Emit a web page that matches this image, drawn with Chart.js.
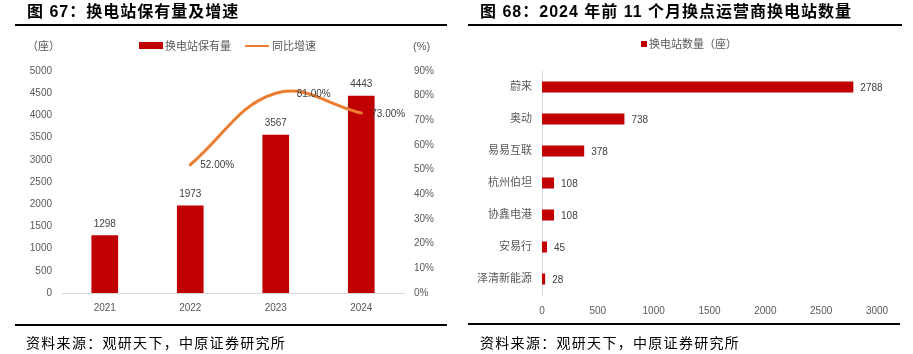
<!DOCTYPE html>
<html>
<head>
<meta charset="utf-8">
<script src="https://cdn.jsdelivr.net/npm/chart.js@4/dist/chart.umd.min.js"></script>
<style>
  html, body { margin: 0; padding: 0; background: #fff; }
  #wrap { position: relative; width: 913px; height: 354px; overflow: hidden; background: #fff; font-family: 'Liberation Sans', 'Noto Sans CJK SC', sans-serif; }
  canvas { position: absolute; top: 0; }
  .title { position: absolute; top: 3px; font-family: 'Liberation Sans', 'Noto Sans CJK SC', sans-serif; font-weight: bold; font-size: 16px; letter-spacing: 1px; color: #000; white-space: nowrap; line-height: 18px; }
  .rule { position: absolute; height: 2px; background: #000; }
  .source { position: absolute; top: 333px; font-family: 'Noto Sans CJK SC', sans-serif; font-size: 14px; letter-spacing: 1.3px; color: #000; white-space: nowrap; line-height: 18px; }
  .lg { position: absolute; font-family: 'Liberation Sans', 'Noto Sans CJK SC', sans-serif; font-size: 11px; color: #595959; white-space: nowrap; line-height: 14px; }
  .sw { position: absolute; }
</style>
</head>
<body>
<div id="wrap">
  <canvas id="c1" width="460" height="354" style="left:0"></canvas>
  <canvas id="c2" width="453" height="354" style="left:460px"></canvas>

  <div class="title" style="left:27px">图 67：换电站保有量及增速</div>
  <div class="rule" style="left:15px; width:432px; top:24px"></div>
  <div class="title" style="left:480px">图 68：2024 年前 11 个月换点运营商换电站数量</div>
  <div class="rule" style="left:468px; width:434px; top:24px"></div>

  <div class="lg" style="left:27px; top:39px">（座）</div>
  <div class="sw" style="left:139px; top:42px; width:24px; height:7px; background:#C00000"></div>
  <div class="lg" style="left:165px; top:39px">换电站保有量</div>
  <div class="sw" style="left:245px; top:45px; width:24px; height:2px; background:#ED7D31"></div>
  <div class="lg" style="left:272px; top:39px">同比增速</div>
  <div class="lg" style="left:413px; top:39px">(%)</div>

  <div class="sw" style="left:641px; top:41px; width:6px; height:6px; background:#C00000"></div>
  <div class="lg" style="left:649px; top:37px">换电站数量（座）</div>

  <div class="rule" style="left:15px; width:432px; top:324px"></div>
  <div class="rule" style="left:468px; width:432px; top:323px"></div>
  <div class="source" style="left:26px">资料来源：观研天下，中原证券研究所</div>
  <div class="source" style="left:480px">资料来源：观研天下，中原证券研究所</div>
</div>
<script>
// ---- Data ----
const years = ['2021', '2022', '2023', '2024'];
const stationCount = [1298, 1973, 3567, 4443];
const growthPct = [null, 52, 81, 73];

const operators = ['蔚来', '奥动', '易易互联', '杭州伯坦', '协鑫电港', '安易行', '泽清新能源'];
const operatorStations = [2788, 738, 378, 108, 108, 45, 28];

const leftTicksMax = 5000, leftTicksStep = 500;
const pctTicksMax = 90, pctTicksStep = 10;
const rightXMax = 3000, rightXStep = 500;

// ---- Style ----
const FONT = "'Liberation Sans', 'Noto Sans CJK SC', sans-serif";
const TICK_COLOR = '#595959';
const LABEL_COLOR = '#404040';
const RED = '#C00000';
const ORANGE = '#ED7D31';
Chart.defaults.font.family = FONT;
Chart.defaults.font.size = 10;
Chart.defaults.color = TICK_COLOR;
Chart.defaults.devicePixelRatio = 1;

const lineLabelDx = [0, 10, 21, 10];
const plain = v => String(v);

const labelPlugin1 = {
  id: 'labels1',
  afterDatasetsDraw(chart) {
    const ctx = chart.ctx;
    ctx.save();
    ctx.font = '10px ' + FONT;
    ctx.fillStyle = LABEL_COLOR;
    const barMeta = chart.getDatasetMeta(0);
    ctx.textAlign = 'center';
    ctx.textBaseline = 'bottom';
    barMeta.data.forEach((el, i) => {
      ctx.fillText(String(stationCount[i]), el.x, el.y - 6);
    });
    const lineMeta = chart.getDatasetMeta(1);
    ctx.textAlign = 'left';
    ctx.textBaseline = 'middle';
    lineMeta.data.forEach((el, i) => {
      if (growthPct[i] == null) return;
      ctx.fillText(growthPct[i].toFixed(2) + '%', el.x + lineLabelDx[i], el.y + 1);
    });
    ctx.restore();
  }
};

new Chart(document.getElementById('c1'), {
  data: {
    labels: years,
    datasets: [
      {
        type: 'bar', label: '换电站保有量', data: stationCount, yAxisID: 'y',
        backgroundColor: RED, barPercentage: 0.312, categoryPercentage: 1, order: 2
      },
      {
        type: 'line', label: '同比增速', data: growthPct, yAxisID: 'y1',
        borderColor: ORANGE, borderWidth: 3, pointRadius: 0, tension: 0.4,
        fill: false, spanGaps: false, order: 1, borderCapStyle: 'round'
      }
    ]
  },
  options: {
    responsive: false, animation: false, devicePixelRatio: 1,
    layout: { padding: { top: 71, left: 0, right: 0, bottom: 0 } },
    plugins: { legend: { display: false }, tooltip: { enabled: false } },
    scales: {
      x: {
        grid: { display: false, drawTicks: false }, border: { display: true, color: '#D9D9D9' },
        ticks: { padding: 9, color: TICK_COLOR },
        afterFit(s) { s.height = 61; }
      },
      y: {
        position: 'left', min: 0, max: leftTicksMax,
        grid: { display: false, drawTicks: false }, border: { display: false },
        ticks: { stepSize: leftTicksStep, padding: 10, color: TICK_COLOR, callback: plain },
        afterFit(s) { s.width = 62; }
      },
      y1: {
        position: 'right', min: 0, max: pctTicksMax,
        grid: { display: false, drawTicks: false }, border: { display: false },
        ticks: { stepSize: pctTicksStep, padding: 10, color: TICK_COLOR, callback: v => v + '%' },
        afterFit(s) { s.width = 56; }
      }
    }
  },
  plugins: [labelPlugin1]
});

const labelPlugin2 = {
  id: 'labels2',
  afterDatasetsDraw(chart) {
    const ctx = chart.ctx;
    ctx.save();
    ctx.font = '10px ' + FONT;
    ctx.fillStyle = LABEL_COLOR;
    ctx.textAlign = 'left';
    ctx.textBaseline = 'middle';
    chart.getDatasetMeta(0).data.forEach((el, i) => {
      ctx.fillText(String(operatorStations[i]), el.x + 7, el.y + 1);
    });
    ctx.restore();
  }
};

new Chart(document.getElementById('c2'), {
  type: 'bar',
  data: {
    labels: operators,
    datasets: [{
      label: '换电站数量（座）', data: operatorStations,
      backgroundColor: RED, barPercentage: 0.344, categoryPercentage: 1
    }]
  },
  options: {
    indexAxis: 'y',
    responsive: false, animation: false, devicePixelRatio: 1,
    layout: { padding: { top: 71, left: 0, right: 36, bottom: 0 } },
    plugins: { legend: { display: false }, tooltip: { enabled: false } },
    scales: {
      x: {
        min: 0, max: rightXMax,
        grid: { display: false, drawTicks: false }, border: { display: false },
        ticks: { stepSize: rightXStep, padding: 10, color: TICK_COLOR, callback: plain },
        afterFit(s) { s.height = 59; }
      },
      y: {
        grid: { display: false, drawTicks: false }, border: { display: true, color: '#D9D9D9' },
        ticks: { padding: 10, color: TICK_COLOR, font: { size: 11 } },
        afterFit(s) { s.width = 82; }
      }
    }
  },
  plugins: [labelPlugin2]
});
</script>
</body>
</html>
